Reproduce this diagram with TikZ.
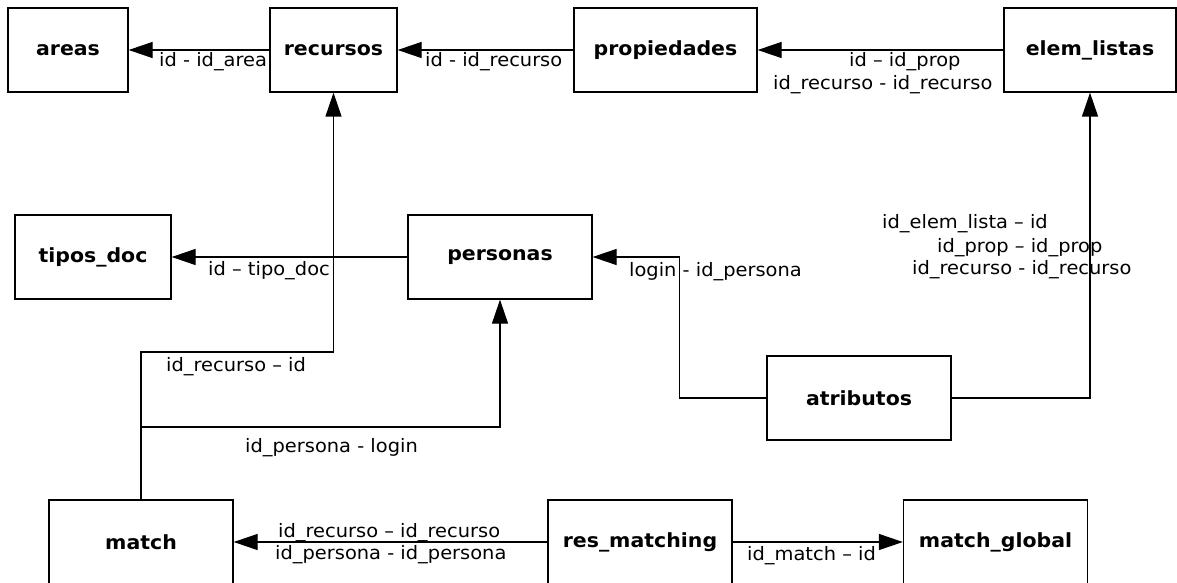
\documentclass[tikz,border=0pt]{standalone}
\usepackage{fontspec}
\setmainfont{DejaVu Sans}[FakeStretch=1.05]
\usetikzlibrary{arrows.meta}
\begin{document}
\begin{tikzpicture}[x=1pt,y=-1pt,
  ent/.style={draw, line width=1.3pt, minimum height=84pt, inner sep=0pt,
    font=\fontsize{19.5}{23}\selectfont\bfseries},
  lbl/.style={inner sep=0pt, anchor=base west, font=\fontsize{18.5}{22}\selectfont},
  con/.style={line width=1.3pt},
  arr/.style={con, -{Triangle[length=24pt,width=16pt]}}]
\clip (0,0) rectangle (1177,583);
\useasboundingbox (0,0) rectangle (1177,583);

\node[ent, minimum width=120pt] (areas) at (68,50) {areas};
\node[ent, minimum width=127pt] (recursos) at (333.5,50) {recursos};
\node[ent, minimum width=183pt] (propiedades) at (665.5,50) {propiedades};
\node[ent, minimum width=172pt] (elem) at (1090,50) {elem\_listas};
\node[ent, minimum width=156pt] (tipos) at (93,257) {tipos\_doc};
\node[ent, minimum width=184pt] (personas) at (500,257) {personas};
\node[ent, minimum width=184pt] (atributos) at (859,398) {atributos};
\node[ent, minimum width=184pt] (match) at (141,542) {match};
\node[ent, minimum width=184pt] (res) at (640,542) {res\_matching};
\node[ent, minimum width=184pt] (global) at (995.5,542) {match\_global};

\draw[arr] (recursos.west) -- (areas.east);
\draw[arr] (propiedades.west) -- (recursos.east);
\draw[arr] (elem.west) -- (propiedades.east);
\draw[arr] (personas.west) -- (tipos.east);
\draw[arr] (atributos.west) -- ++(-87,0) |- (personas.east);
\draw[arr] (atributos.east) -| (elem.south);
\draw[arr] (match.north) -- (match.north |- 0,352) -| (recursos.south);
\draw[arr] (match.north |- 0,427) -| (personas.south);
\draw[arr] (res.west) -- (match.east);
\draw[arr] (res.east) -- (global.west);

\node[lbl] (l1) at (159,67) {id - id\_area};
\node[lbl] (l2) at (425,67) {id - id\_recurso};
\node[lbl] (l3) at (849,67) {id – id\_prop};
\node[lbl] (l4) at (773,90) {id\_recurso - id\_recurso};
\node[lbl] (l5) at (208,275) {id – tipo\_doc};
\node[lbl] (l6) at (629,276) {login - id\_persona};
\node[lbl] (l7) at (882,228) {id\_elem\_lista – id};
\node[lbl] (l8) at (937,252) {id\_prop – id\_prop};
\node[lbl] (l9) at (912,274) {id\_recurso - id\_recurso};
\node[lbl] (l10) at (166,371) {id\_recurso – id};
\node[lbl] (l11) at (245,452) {id\_persona - login};
\node[lbl] (l12) at (278,537) {id\_recurso – id\_recurso};
\node[lbl] (l13) at (275,559) {id\_persona - id\_persona};
\node[lbl] (l14) at (747,560) {id\_match – id};
\end{tikzpicture}
\end{document}
